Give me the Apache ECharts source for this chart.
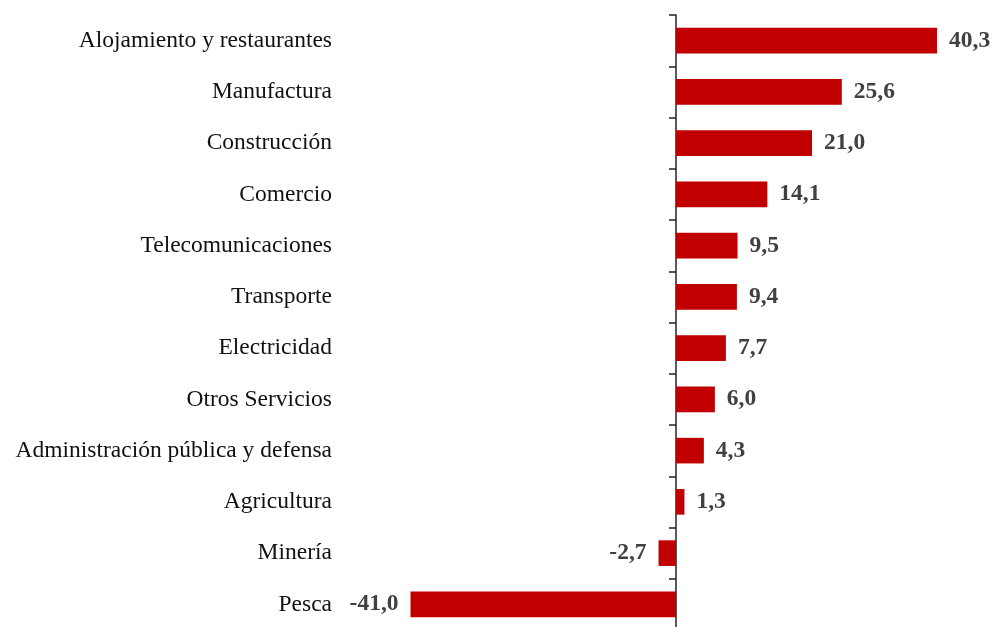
<!DOCTYPE html>
<html>
<head>
<meta charset="utf-8">
<script src="https://cdn.jsdelivr.net/npm/echarts@6/dist/echarts.min.js"></script>
<style>
  html, body { margin: 0; padding: 0; background: #fff; }
  #chart { width: 992px; height: 627px; }
</style>
</head>
<body>
<div id="chart"></div>
<script>
// sectores y variación (%)
var categories = [
  "Alojamiento y restaurantes", "Manufactura", "Construcción", "Comercio",
  "Telecomunicaciones", "Transporte", "Electricidad", "Otros Servicios",
  "Administración pública y defensa", "Agricultura", "Minería", "Pesca"
];
var values = [40.3, 25.6, 21.0, 14.1, 9.5, 9.4, 7.7, 6.0, 4.3, 1.3, -2.7, -41.0];

var chart = echarts.init(document.getElementById("chart"));

var option = {
  animation: false,
  grid: {
    left: 410.5,
    right: 55,
    top: 15,
    bottom: -3,
    containLabel: false,
    outerBoundsMode: "none"
  },
  xAxis: {
    type: "value",
    min: -41,
    max: 40.3,
    show: false
  },
  yAxis: {
    type: "category",
    data: categories,
    inverse: true,
    axisLine: {
      onZero: true,
      lineStyle: { color: "#222", width: 1.5 }
    },
    axisTick: {
      show: true,
      inside: false,
      length: 7,
      lineStyle: { color: "#222", width: 1.5 }
    },
    axisLabel: {
      margin: 78.5,
      color: "#111",
      fontFamily: "Liberation Serif",
      fontSize: 23.5
    },
    splitLine: { show: false }
  },
  series: [
    {
      type: "bar",
      barWidth: "50%",
      itemStyle: { color: "#C00000" },
      data: values.map(function (v) {
        return {
          value: v,
          label: { position: v < 0 ? "left" : "right" }
        };
      }),
      label: {
        show: true,
        distance: 12,
        color: "#404040",
        fontFamily: "Liberation Serif",
        fontWeight: "bold",
        fontSize: 23.5,
        formatter: function (p) {
          return p.value.toFixed(1).replace(".", ",");
        }
      }
    }
  ]
};

chart.setOption(option);
</script>
</body>
</html>
